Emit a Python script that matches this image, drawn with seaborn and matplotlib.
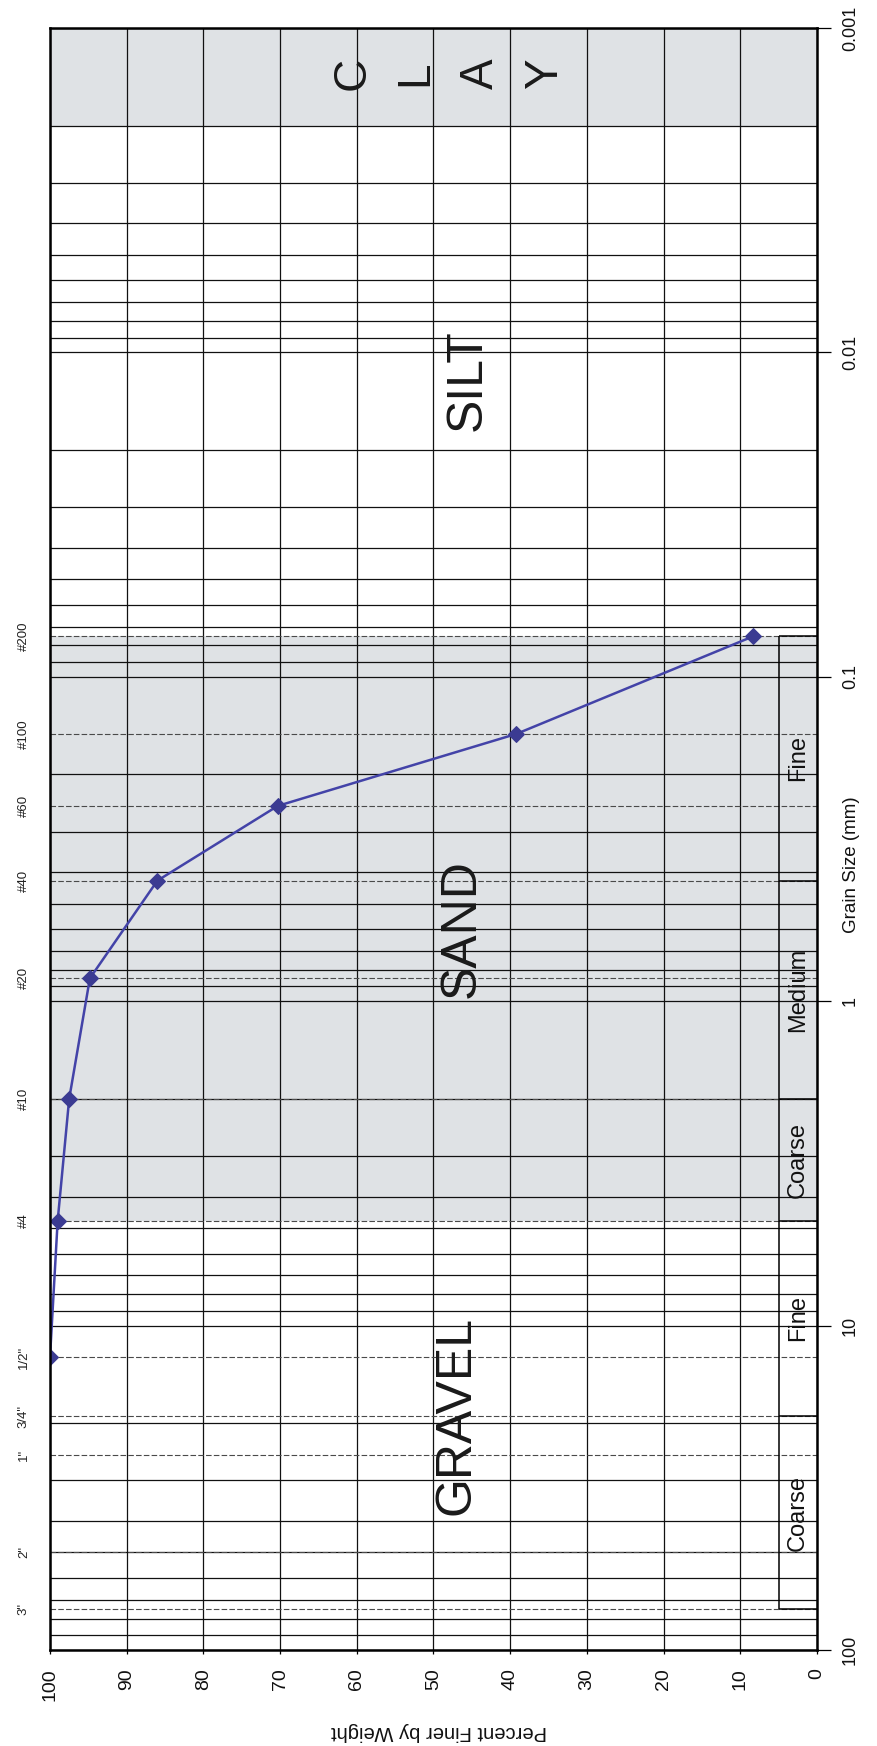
import numpy as np
import pandas as pd
import matplotlib
matplotlib.use("Agg")
import matplotlib.pyplot as plt
import matplotlib.transforms as mtransforms
from matplotlib.ticker import LogLocator, NullFormatter, FixedLocator
import seaborn as sns

# ---------------- data ----------------
test_sieves = ['1/2"', '#4', '#10', '#20', '#40', '#60', '#100', '#200']
test_mm = [12.5, 4.75, 2.0, 0.85, 0.425, 0.25, 0.15, 0.075]
percent_finer = [100, 99, 97.5, 94.8, 86, 70.3, 39.2, 8.3]

sieve_labels = ['3"', '2"', '1"', '3/4"', '1/2"', '#4', '#10', '#20', '#40', '#60', '#100', '#200']
sieve_mm = [75, 50, 25, 19, 12.5, 4.75, 2.0, 0.85, 0.425, 0.25, 0.15, 0.075]

grain_ticks = [100, 10, 1, 0.1, 0.01, 0.001]
grain_tick_labels = ['100', '10', '1', '0.1', '0.01', '0.001']
pct_ticks = [100, 90, 80, 70, 60, 50, 40, 30, 20, 10, 0]
pct_tick_labels = ['100', '90', '80', '70', '60', '50', '40', '30', '20', '10', '0']

# subdivision strip (grain size bounds, mm) and names
strip_bounds = [75, 19, 4.75, 2.0, 0.425, 0.075]
strip_names = ['Coarse', 'Fine', 'Coarse', 'Medium', 'Fine']

# soil zones
sand_zone = (0.075, 4.75)
clay_zone = (0.001, 0.002)
zone_names = ['GRAVEL', 'SAND', 'SILT']
zone_sizes = [18.9, 0.597, 0.0122]
zone_pct = [47.0, 46.3, 45.6]
clay_letters = ['C', 'L', 'A', 'Y']
clay_pct = [60.6, 52.4, 43.8, 35.4]
clay_size = 0.00138

# ---------------- style ----------------
sns.set_theme(style="white")
plt.rcParams['font.family'] = ['Liberation Sans', 'DejaVu Sans']

W, H = 877, 1746
fig = plt.figure(figsize=(W / 100, H / 100), dpi=100)
left, right, top, bottom = 50, 817, 28, 1650
ax = fig.add_axes([left / W, 1 - bottom / H, (right - left) / W, (bottom - top) / H])

ax.set_yscale('log')
ax.set_ylim(100, 0.001)
ax.set_xlim(100, 0)

shade = '#dfe2e5'
ax.axhspan(*sand_zone, color=shade, zorder=0.1, lw=0)
ax.axhspan(*clay_zone, color=shade, zorder=0.1, lw=0)

# grid
ax.set_axisbelow(True)
ax.yaxis.set_minor_locator(LogLocator(base=10, subs=np.arange(2, 10)))
ax.yaxis.set_minor_formatter(NullFormatter())
ax.grid(True, which='both', axis='y', color='#111111', lw=0.9)
ax.grid(True, which='major', axis='x', color='#111111', lw=0.9)

# dashed sieve lines
for d in sieve_mm:
    ax.axhline(d, color='#4a4a4a', lw=0.8, ls=(0, (5, 2)), zorder=0.6)

# strip of subdivisions
strip_w = 5
ax.vlines(strip_w, strip_bounds[-1], strip_bounds[0], color='black', lw=1.1, zorder=2)
ax.hlines(strip_bounds, 0, strip_w, color='black', lw=1.1, zorder=2)
for i, name in enumerate(strip_names):
    ymid = np.sqrt(strip_bounds[i] * strip_bounds[i + 1])
    ax.text(strip_w / 2, ymid, name, rotation=90, ha='center', va='center',
            fontsize=17, color='#111111', zorder=3)

# zone labels
for name, s, p in zip(zone_names, zone_sizes, zone_pct):
    ax.text(p, s, name, rotation=90, ha='center', va='center', fontsize=36,
            color='#1a1a1a', zorder=3)
for letter, p in zip(clay_letters, clay_pct):
    ax.text(p, clay_size, letter, rotation=90, ha='center', va='center',
            fontsize=33, color='#1a1a1a', zorder=3)

# gradation curve
df = pd.DataFrame({'finer': percent_finer, 'size': test_mm, 'sieve': test_sieves})
sns.lineplot(data=df, x='finer', y='size', sort=False, estimator=None, ax=ax,
             color='#4343a8', lw=1.8, marker='D', markersize=8,
             markerfacecolor='#3b3b92', markeredgecolor='#3b3b92', zorder=5)

# sieve labels on the left
trans = mtransforms.blended_transform_factory(ax.transAxes, ax.transData)
for lab, d in zip(sieve_labels, sieve_mm):
    ax.text(-0.034, d, lab, transform=trans, rotation=90, ha='center', va='center',
            fontsize=9.5, color='#222222')

# ticks
ax.xaxis.set_major_locator(FixedLocator(pct_ticks))
ax.set_xticks(pct_ticks, pct_tick_labels)
ax.tick_params(axis='x', which='major', bottom=True, length=3, width=0.9, color='black',
               labelsize=14, labelrotation=90, pad=10, labelcolor='#111111')
ax.yaxis.tick_right()
ax.set_yticks(grain_ticks, grain_tick_labels)
ax.yaxis.set_minor_formatter(NullFormatter())
ax.tick_params(axis='y', which='major', right=True, left=False, length=10, width=0.9,
               color='black', labelsize=13, labelrotation=90, pad=8, labelcolor='#111111')
ax.tick_params(axis='y', which='minor', length=0)
for lbl in ax.get_yticklabels():
    lbl.set_va('center')

ax.set_xlabel('')
ax.set_ylabel('')
for sp in ax.spines.values():
    sp.set_visible(True)
    sp.set_color('black')
    sp.set_linewidth(1.8)
    sp.set_zorder(6)

fig.text(439 / W, 1 - 1731 / H, 'Percent Finer by Weight', rotation=180,
         ha='center', va='center', fontsize=14.5, color='#111111')
fig.text(852 / W, 1 - 865 / H, 'Grain Size (mm)', rotation=90,
         ha='center', va='center', fontsize=13.5, color='#111111')

fig.savefig('out.png', dpi=100, facecolor='white')
